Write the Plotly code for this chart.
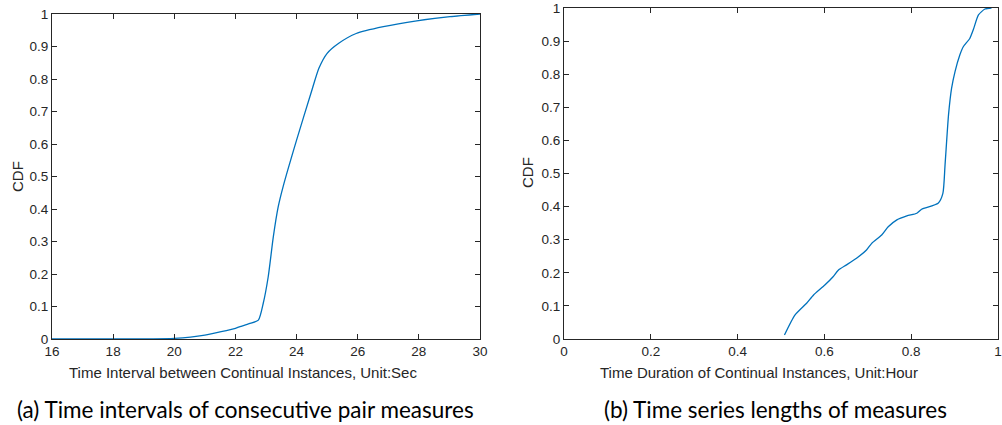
import plotly.graph_objects as go

# Left panel: time interval CDF
interval_sec = [16, 18, 19, 20, 21, 22, 22.15, 22.45, 22.75, 22.91, 23.07, 23.24, 23.40, 23.56, 24.0, 24.47, 24.73, 25.0, 25.38, 25.95, 26.84, 27.93, 29.02, 30]
interval_cdf = [0, 0, 0.0005, 0.002, 0.012, 0.033, 0.038, 0.047, 0.058, 0.11, 0.19, 0.315, 0.407, 0.469, 0.612, 0.756, 0.833, 0.879, 0.91, 0.94, 0.961, 0.979, 0.992, 1.0]

# Right panel: duration CDF
duration_hr = [0.508, 0.532, 0.559, 0.575, 0.601, 0.620, 0.632, 0.651, 0.674, 0.697, 0.709, 0.732, 0.747, 0.767, 0.790, 0.813, 0.824, 0.862, 0.873, 0.878, 0.886, 0.893, 0.901, 0.912, 0.920, 0.935, 0.943, 0.955, 0.970, 0.985]
duration_cdf = [0.012, 0.072, 0.108, 0.133, 0.163, 0.188, 0.208, 0.224, 0.244, 0.269, 0.289, 0.314, 0.339, 0.360, 0.372, 0.380, 0.392, 0.410, 0.44, 0.526, 0.677, 0.757, 0.808, 0.858, 0.883, 0.908, 0.934, 0.979, 0.997, 1.0]

left_xticks = [16, 18, 20, 22, 24, 26, 28, 30]
right_xticks = [0, 0.2, 0.4, 0.6, 0.8, 1]
right_xtext = ["0", "0.2", "0.4", "0.6", "0.8", "1"]
yticks = [0, 0.1, 0.2, 0.3, 0.4, 0.5, 0.6, 0.7, 0.8, 0.9, 1]
ytick_text = ["0", "0.1", "0.2", "0.3", "0.4", "0.5", "0.6", "0.7", "0.8", "0.9", "1"]

LINE = "#0072BD"
AX = "#262626"
TICKF = dict(family="Arial, Liberation Sans, sans-serif", size=13.5, color=AX)
TITLEF = dict(family="Arial, Liberation Sans, sans-serif", size=15, color=AX)

W, H = 1002, 425
ML, MR, MT, MB = 52, 4, 8, 86
PW, PH = W - ML - MR, H - MT - MB


def px(xp):
    return (xp - ML) / PW


def py(yp):
    return (H - MB - yp) / PH


fig = go.Figure()
fig.add_trace(go.Scatter(x=interval_sec, y=interval_cdf, mode="lines",
                         line=dict(color=LINE, width=1.3, shape="spline", smoothing=0.6),
                         xaxis="x", yaxis="y", showlegend=False, hoverinfo="skip"))
fig.add_trace(go.Scatter(x=duration_hr, y=duration_cdf, mode="lines",
                         line=dict(color=LINE, width=1.3, shape="spline", smoothing=0.6),
                         xaxis="x2", yaxis="y2", showlegend=False, hoverinfo="skip"))

axcommon = dict(showline=True, linecolor=AX, linewidth=1, mirror="ticks", ticks="inside",
                ticklen=5, tickcolor=AX, showgrid=False, zeroline=False, tickfont=TICKF,
                automargin=False, ticklabeloverflow="allow")

fig.update_layout(
    width=W, height=H,
    margin=dict(l=ML, r=MR, t=MT, b=MB),
    paper_bgcolor="white", plot_bgcolor="white",
    hovermode=False,
    xaxis=dict(domain=[px(52), px(480)], range=[16, 30], tickvals=left_xticks,
               anchor="y", **axcommon),
    yaxis=dict(domain=[py(339), py(14)], range=[0, 1], tickvals=yticks, ticktext=ytick_text,
               anchor="x", **axcommon),
    xaxis2=dict(domain=[px(564), px(998)], range=[0, 1], tickvals=right_xticks,
                ticktext=right_xtext, anchor="y2", **axcommon),
    yaxis2=dict(domain=[py(339), py(8)], range=[0, 1], tickvals=yticks, ticktext=ytick_text,
                anchor="x2", **axcommon),
)

# axis titles
fig.add_annotation(text="Time Interval between Continual Instances, Unit:Sec", x=px(243), y=py(372),
                   xref="paper", yref="paper", showarrow=False, font=TITLEF, xanchor="center", yanchor="middle")
fig.add_annotation(text="Time Duration of Continual Instances, Unit:Hour", x=px(759), y=py(372),
                   xref="paper", yref="paper", showarrow=False, font=TITLEF, xanchor="center", yanchor="middle")
fig.add_annotation(text="CDF", x=px(17), y=py(177), textangle=-90,
                   xref="paper", yref="paper", showarrow=False, font=TITLEF, xanchor="center", yanchor="middle")
fig.add_annotation(text="CDF", x=px(527), y=py(173), textangle=-90,
                   xref="paper", yref="paper", showarrow=False, font=TITLEF, xanchor="center", yanchor="middle")

CAPF = dict(family="Lato, Noto Sans, sans-serif", size=22.5, color="black")
fig.add_annotation(text="(a) Time intervals of consecutive pair measures", x=px(245), y=py(410),
                   xref="paper", yref="paper", showarrow=False, font=CAPF, xanchor="center", yanchor="middle")
fig.add_annotation(text="(b) Time series lengths of measures", x=px(775), y=py(410),
                   xref="paper", yref="paper", showarrow=False, font=CAPF, xanchor="center", yanchor="middle")

# remove the page's default 8px body margin so the figure sits at the window's origin
fig.write_html("out.html", config={"displayModeBar": False},
               post_script="document.body.style.margin='0px';")
